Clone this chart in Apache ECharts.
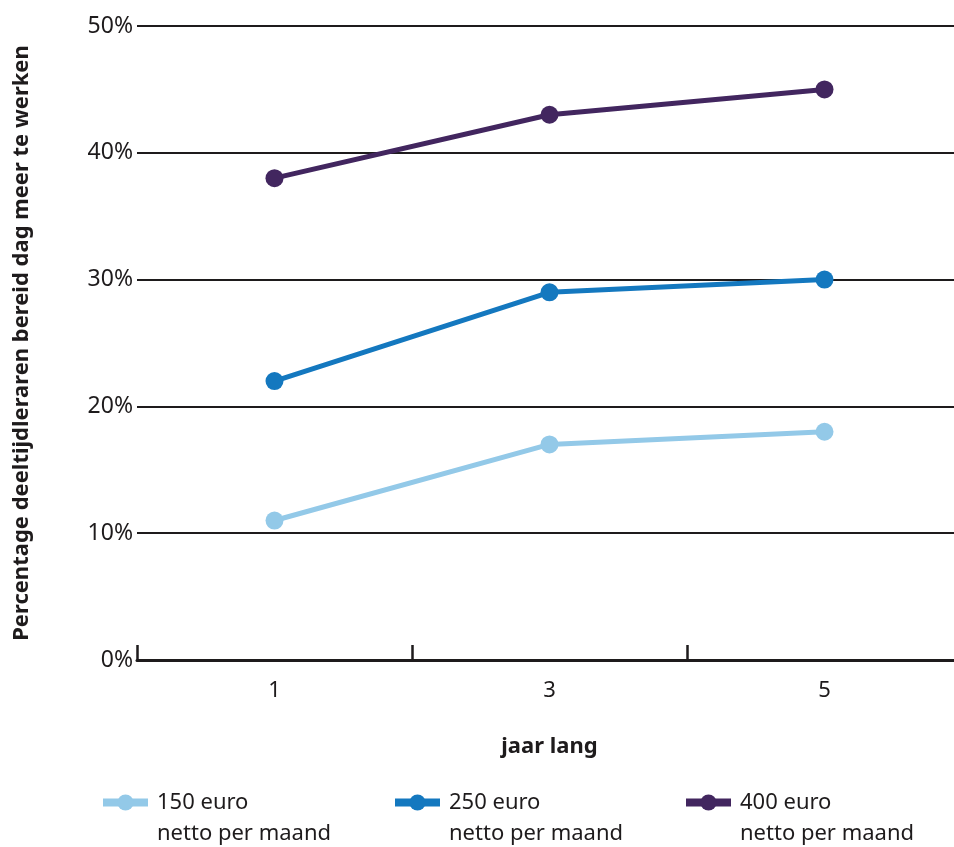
<!DOCTYPE html>
<html>
<head>
<meta charset="utf-8">
<script src="https://cdn.jsdelivr.net/npm/echarts@6/dist/echarts.min.js"></script>
<style>html,body{margin:0;padding:0;background:#fff}#c{width:954px;height:847px}</style>
</head>
<body>
<div id="c"></div>
<script>
const categories = ['1', '3', '5'];
const yTicks = [0, 10, 20, 30, 40, 50];
const seriesNames = ['150 euro\nnetto per maand', '250 euro\nnetto per maand', '400 euro\nnetto per maand'];
const s150 = [11, 17, 18];
const s250 = [22, 29, 30];
const s400 = [38, 43, 45];
const colors = ['#93c9e8', '#1478bf', '#42265f'];

const FONT = '"Noto Sans", "Open Sans", sans-serif';
const dark = '#1e1b1c';
const allData = [s150, s250, s400];

const chart = echarts.init(document.getElementById('c'));
const legendLefts = [99, 391, 682];
chart.setOption({
  animation: false,
  textStyle: { fontFamily: FONT },
  grid: { left: 137, width: 825, top: 26, bottom: 187, containLabel: false, outerBoundsMode: 'none' },
  xAxis: {
    type: 'category',
    data: categories,
    boundaryGap: true,
    axisLine: { lineStyle: { color: dark, width: 3 } },
    axisTick: { show: true, inside: true, length: 15, lineStyle: { color: dark, width: 2.5 } },
    axisLabel: { color: dark, fontSize: 22, margin: 20, fontFamily: FONT },
    name: 'jaar lang',
    nameLocation: 'middle',
    nameGap: 76,
    nameTextStyle: { color: dark, fontSize: 22, fontWeight: 'bold', fontFamily: FONT }
  },
  yAxis: {
    type: 'value',
    min: yTicks[0],
    max: yTicks[yTicks.length - 1],
    interval: 10,
    axisLine: { show: false },
    axisTick: { show: false },
    splitLine: { lineStyle: { color: dark, width: 2 } },
    axisLabel: { color: dark, fontSize: 23, margin: 4, formatter: v => v + '%', fontFamily: FONT },
    name: 'Percentage deeltijdleraren bereid dag meer te werken',
    nameLocation: 'middle',
    nameGap: 104,
    nameTextStyle: { color: dark, fontSize: 22, fontWeight: 'bold', fontFamily: FONT }
  },
  legend: seriesNames.map((n, i) => ({
    data: [n],
    left: legendLefts[i],
    top: 756,
    padding: 0,
    itemWidth: 45,
    itemHeight: 20,
    itemGap: 8,
    lineStyle: { width: 8 },
    formatter: name => '\n' + name,
    textStyle: { color: dark, fontSize: 22, lineHeight: 31, fontFamily: FONT, padding: [0, 0, 0, 4] }
  })),
  series: seriesNames.map((n, i) => ({
    name: n,
    type: 'line',
    data: allData[i],
    symbol: 'circle',
    symbolSize: 18,
    color: colors[i],
    lineStyle: { width: 5, color: colors[i] },
    itemStyle: { color: colors[i] }
  }))
});
</script>
</body>
</html>
